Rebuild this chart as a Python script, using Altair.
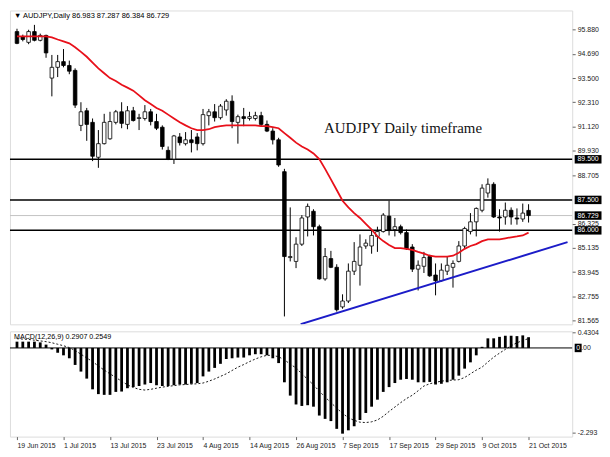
import altair as alt
import pandas as pd

# ---------------- data ----------------
date_labels = ["19 Jun 2015", "1 Jul 2015", "13 Jul 2015", "23 Jul 2015", "4 Aug 2015",
               "14 Aug 2015", "26 Aug 2015", "7 Sep 2015", "17 Sep 2015", "29 Sep 2015",
               "9 Oct 2015", "21 Oct 2015"]
date_ticks = [0, 8, 16, 24, 32, 40, 48, 56, 64, 72, 80, 88]

opens = [95.79, 95.55, 95.26, 95.79, 95.36, 95.60, 93.50, 94.03, 94.31, 94.12,
         93.88, 91.17, 91.89, 91.32, 89.60, 90.27, 90.51, 91.32, 91.84, 91.22,
         91.89, 91.51, 91.51, 91.84, 91.36, 91.08, 89.94, 89.51, 90.60, 90.27,
         90.46, 90.60, 90.27, 91.65, 91.84, 91.55, 91.93, 92.36, 91.32, 91.60,
         91.51, 91.51, 91.65, 91.22, 90.89, 90.46, 88.89, 84.66, 84.47, 85.32,
         86.66, 86.94, 86.18, 83.61, 84.61, 84.18, 82.23, 82.52, 83.99, 84.28,
         85.23, 85.23, 85.70, 85.94, 86.70, 86.04, 86.18, 85.89, 85.18, 84.09,
         84.23, 84.71, 83.80, 83.52, 83.99, 84.18, 84.47, 85.23, 85.94, 86.42,
         86.99, 87.84, 88.27, 86.66, 86.66, 86.99, 86.61, 86.56, 86.983]
highs = [95.93, 95.64, 95.88, 96.12, 95.69, 95.64, 94.64, 94.64, 94.93, 94.36,
         93.98, 92.31, 92.03, 91.51, 90.94, 91.74, 91.84, 91.93, 92.31, 92.12,
         92.08, 91.74, 92.17, 91.98, 91.74, 91.17, 90.13, 90.70, 90.79, 90.84,
         90.94, 90.79, 91.98, 91.98, 92.22, 92.22, 92.46, 92.65, 91.70, 92.03,
         91.84, 91.84, 91.84, 91.41, 91.03, 90.56, 89.03, 87.13, 85.66, 86.75,
         87.32, 87.04, 86.28, 85.13, 84.99, 84.33, 82.85, 84.37, 85.42, 85.80,
         85.56, 86.04, 86.18, 86.85, 87.46, 86.61, 86.28, 86.04, 85.32, 84.52,
         84.94, 84.80, 84.37, 84.37, 84.71, 84.52, 85.47, 86.18, 86.85, 87.13,
         88.27, 88.56, 88.37, 87.04, 87.37, 87.13, 87.08, 87.32, 87.287]
lows = [95.17, 95.31, 95.17, 95.31, 95.31, 94.50, 92.60, 93.55, 94.03, 93.69,
        92.03, 90.89, 90.41, 89.41, 89.08, 90.23, 90.46, 91.22, 91.03, 90.98,
        91.36, 90.94, 91.41, 91.17, 90.94, 89.98, 89.46, 89.27, 90.18, 90.18,
        89.84, 89.94, 90.18, 91.17, 91.36, 91.46, 91.65, 91.03, 90.27, 91.13,
        91.41, 91.41, 91.13, 90.84, 90.23, 89.13, 81.76, 84.47, 84.14, 85.23,
        85.70, 85.75, 83.57, 83.52, 84.14, 82.00, 82.14, 82.42, 83.80, 83.28,
        85.09, 84.85, 84.94, 85.89, 85.75, 85.70, 85.80, 85.04, 83.95, 83.04,
        83.90, 83.71, 82.80, 83.47, 83.80, 83.18, 84.42, 85.09, 85.80, 85.70,
        86.89, 87.61, 86.61, 85.94, 86.28, 86.28, 86.28, 86.42, 86.384]
closes = [95.21, 95.40, 95.79, 95.36, 95.60, 94.74, 94.03, 94.31, 94.12, 93.84,
          92.17, 91.84, 91.22, 89.65, 90.27, 91.32, 91.36, 91.84, 91.27, 91.89,
          91.41, 91.55, 91.84, 91.36, 91.03, 90.13, 89.51, 90.65, 90.32, 90.46,
          90.32, 90.27, 91.70, 91.84, 91.55, 92.12, 92.36, 91.36, 91.60, 91.51,
          91.60, 91.65, 91.22, 90.89, 90.46, 89.22, 84.71, 84.71, 85.32, 86.61,
          87.18, 86.18, 83.61, 84.71, 84.18, 82.09, 82.52, 83.99, 84.47, 85.18,
          85.37, 85.75, 85.94, 86.75, 85.99, 86.18, 85.89, 85.09, 84.09, 84.28,
          84.66, 83.76, 83.52, 84.04, 84.28, 84.37, 85.23, 86.09, 86.42, 87.08,
          88.08, 88.27, 86.66, 86.61, 86.99, 86.66, 86.56, 86.85, 86.729]
ma_values = [95.55, 95.55, 95.55, 95.55, 95.55, 95.55, 95.50, 95.40, 95.31, 95.21,
             95.02, 94.79, 94.55, 94.26, 93.98, 93.74, 93.50, 93.36, 93.17, 93.03,
             92.88, 92.65, 92.41, 92.22, 92.03, 91.89, 91.70, 91.51, 91.32, 91.17,
             91.03, 90.94, 90.94, 90.98, 91.08, 91.13, 91.17, 91.17, 91.17, 91.17,
             91.17, 91.17, 91.13, 91.13, 91.08, 91.03, 90.79, 90.56, 90.32, 90.13,
             89.98, 89.79, 89.51, 89.03, 88.51, 87.99, 87.46, 87.13, 86.85, 86.61,
             86.32, 86.04, 85.70, 85.47, 85.28, 85.13, 85.13, 85.09, 85.04, 84.94,
             84.85, 84.75, 84.71, 84.71, 84.71, 84.75, 84.90, 85.09, 85.23, 85.32,
             85.47, 85.56, 85.56, 85.56, 85.61, 85.66, 85.70, 85.75, 85.89]
macd_main = [0.17, 0.17, 0.17, 0.17, 0.15, 0.09, -0.04, -0.13, -0.20, -0.28,
             -0.46, -0.64, -0.83, -1.12, -1.25, -1.27, -1.27, -1.19, -1.18, -1.09,
             -1.06, -1.03, -0.99, -0.95, -1.01, -1.03, -1.03, -1.01, -0.99, -0.99,
             -0.97, -0.95, -0.77, -0.64, -0.54, -0.43, -0.30, -0.28, -0.26, -0.26,
             -0.20, -0.17, -0.17, -0.20, -0.28, -0.41, -0.93, -1.29, -1.53, -1.57,
             -1.55, -1.59, -1.83, -1.92, -1.98, -2.19, -2.32, -2.23, -2.12, -1.95,
             -1.76, -1.59, -1.40, -1.19, -1.06, -0.95, -0.86, -0.84, -0.86, -0.93,
             -0.93, -0.92, -0.99, -0.97, -0.93, -0.86, -0.75, -0.56, -0.39, -0.20,
             0.03, 0.26, 0.26, 0.30, 0.33, 0.33, 0.32, 0.34, 0.2907]
macd_signal = [0.25, 0.24, 0.23, 0.21, 0.19, 0.17, 0.14, 0.10, 0.06, 0.01,
               -0.07, -0.17, -0.27, -0.37, -0.49, -0.60, -0.70, -0.80, -0.90, -1.00,
               -1.07, -1.12, -1.14, -1.12, -1.09, -1.06, -1.04, -1.02, -1.00, -0.99,
               -0.98, -0.97, -0.95, -0.90, -0.84, -0.77, -0.70, -0.61, -0.52, -0.45,
               -0.37, -0.30, -0.24, -0.20, -0.20, -0.24, -0.32, -0.44, -0.54, -0.70,
               -0.85, -1.00, -1.17, -1.33, -1.48, -1.63, -1.77, -1.89, -1.96, -2.01,
               -2.02, -2.00, -1.95, -1.85, -1.72, -1.60, -1.48, -1.37, -1.28, -1.16,
               -1.03, -0.97, -0.93, -0.90, -0.88, -0.87, -0.86, -0.80, -0.70, -0.60,
               -0.52, -0.38, -0.25, -0.14, -0.04, 0.06, 0.14, 0.20, 0.2549]

level_values = [89.5, 87.5, 86.0]
box_values = [89.5, 87.5, 86.729, 86.0]
box_labels = ["89.500", "87.500", "86.729", "86.000"]
last_price = 86.729
trend_x = [48.8, 94.7]
trend_y = [81.38, 85.42]
price_ticks = [95.88, 94.69, 93.5, 92.31, 91.12, 89.93, 88.705, 86.325, 85.135,
               83.945, 82.755, 81.565]
macd_ticks = [0.4304, -2.293]
header_text = "\u25bc AUDJPY,Daily  86.983 87.287 86.384 86.729"
macd_text = "MACD(12,26,9) 0.2907 0.2549"
note_text = "AUDJPY Daily timeframe"
note_x, note_y = 52.8, 91.03

# ---------------- tables ----------------
n = len(opens)
df = pd.DataFrame({"i": list(range(n)), "open": opens, "high": highs, "low": lows,
                   "close": closes, "ma": ma_values, "macd": macd_main,
                   "signal": macd_signal})
levels_df = pd.DataFrame({"v": level_values})
last_df = pd.DataFrame({"v": [last_price]})
trend_df = pd.DataFrame({"i": trend_x, "p": trend_y})
box_df = pd.DataFrame({"v": box_values, "lbl": box_labels})
note_df = pd.DataFrame({"i": [note_x], "p": [note_y], "t": [note_text]})
head_df = pd.DataFrame({"t": [header_text]})
mhead_df = pd.DataFrame({"t": [macd_text]})
zero_df = pd.DataFrame({"z": [0.0], "a": ["0"], "b": [".00"]})

W, H1, H2 = 566, 316, 106
FONT = "Liberation Sans"
xs = alt.Scale(domain=[-0.35, 94.65], nice=False, zero=False)
ys = alt.Scale(domain=[81.37, 96.83], nice=False, zero=False)
ms = alt.Scale(domain=[-2.40, 0.45], nice=False, zero=False)

price_axis = alt.Axis(orient="right", values=price_ticks, format=".3f", labelFontSize=7,
                      labelFont=FONT, labelColor="#222222", tickSize=3, tickColor="#666666",
                      domain=False, grid=False, title=None, labelPadding=2,
                      labelOverlap=False, labelFlush=False)
macd_axis = alt.Axis(orient="right", values=macd_ticks,
                     labelExpr="datum.value > 0 ? '0.4304' : '-2.293'", labelFontSize=7,
                     labelFont=FONT, labelColor="#222222", tickSize=3, tickColor="#666666",
                     domain=False, grid=False, title=None, labelPadding=2,
                     labelOverlap=False, labelFlush=False)
js_labels = "[" + ",".join("'" + d + "'" for d in date_labels) + "]"
date_axis = alt.Axis(orient="bottom", values=date_ticks,
                     labelExpr=js_labels + "[round(datum.value / 8)]", labelAlign="left",
                     labelFontSize=7, labelFont=FONT, labelColor="#222222", tickSize=3,
                     tickColor="#666666", domain=False, grid=False, title=None,
                     labelPadding=2, labelOverlap=False, labelFlush=False)

X = alt.X("i:Q", scale=xs, axis=None)

def Y(field):
    return alt.Y(field, scale=ys, axis=price_axis)

levels = alt.Chart(levels_df).mark_rule(color="black", strokeWidth=1.5).encode(y=Y("v:Q"))
lastline = alt.Chart(last_df).mark_rule(color="#c4c4c4", strokeWidth=1).encode(y=Y("v:Q"))
wicks = alt.Chart(df).mark_rule(color="black", strokeWidth=1).encode(
    x=X, y=Y("low:Q"), y2="high:Q")
bodies = alt.Chart(df).mark_bar(size=3.6, stroke="black", strokeWidth=0.8,
                                orient="vertical").encode(
    x=X, y=Y("open:Q"), y2="close:Q",
    fill=alt.condition("datum.close >= datum.open", alt.value("white"), alt.value("black")))
ma_line = alt.Chart(df).mark_line(color="#e8101a", strokeWidth=1.8).encode(x=X, y=Y("ma:Q"))
trend = alt.Chart(trend_df).mark_line(color="#1c1cc8", strokeWidth=2, clip=True).encode(
    x=alt.X("i:Q", scale=xs, axis=None), y=Y("p:Q"))
note = alt.Chart(note_df).mark_text(align="left", baseline="middle", fontSize=15,
                                    font="Liberation Serif", color="#111111").encode(
    x=alt.X("i:Q", scale=xs, axis=None), y=Y("p:Q"), text="t:N")
header = alt.Chart(head_df).mark_text(align="left", baseline="middle", fontSize=7.5,
                                      font=FONT, color="black").encode(
    x=alt.value(4), y=alt.value(6), text="t:N")
boxes = alt.Chart(box_df).mark_tick(orient="horizontal", size=27, thickness=8.5,
                                    color="black", opacity=1, clip=False).encode(
    x=alt.value(W + 16), y=Y("v:Q"))
box_text = alt.Chart(box_df).mark_text(align="center", baseline="middle", fontSize=7,
                                       font=FONT, color="white").encode(
    x=alt.value(W + 16), y=Y("v:Q"), text="lbl:N")

main = alt.layer(levels, lastline, wicks, bodies, ma_line, trend, note, header,
                 boxes, box_text).properties(width=W, height=H1)

MX = alt.X("i:Q", scale=xs, axis=date_axis)

def MY(field):
    return alt.Y(field, scale=ms, axis=macd_axis)

zero_line = alt.Chart(zero_df).mark_rule(color="black", strokeWidth=1).encode(y=MY("z:Q"))
hist = alt.Chart(df).mark_bar(size=2.8, color="black", orient="vertical").encode(
    x=MX, y=MY("macd:Q"), y2=alt.datum(0))
sig = alt.Chart(df).mark_line(color="black", strokeWidth=0.9, strokeDash=[2, 2]).encode(
    x=MX, y=MY("signal:Q"))
mhead = alt.Chart(mhead_df).mark_text(align="left", baseline="middle", fontSize=7.2,
                                      font=FONT, color="black").encode(
    x=alt.value(4), y=alt.value(6), text="t:N")
zbox = alt.Chart(zero_df).mark_tick(orient="horizontal", size=7, thickness=8.5,
                                    color="black", opacity=1, clip=False).encode(
    x=alt.value(W + 6), y=MY("z:Q"))
ztext_a = alt.Chart(zero_df).mark_text(align="center", baseline="middle", fontSize=7,
                                       font=FONT, color="white").encode(
    x=alt.value(W + 6), y=MY("z:Q"), text="a:N")
ztext_b = alt.Chart(zero_df).mark_text(align="left", baseline="middle", fontSize=7,
                                       font=FONT, color="#222222").encode(
    x=alt.value(W + 9), y=MY("z:Q"), text="b:N")

macd = alt.layer(zero_line, hist, sig, mhead, zbox, ztext_a, ztext_b).properties(
    width=W, height=H2)

chart = alt.vconcat(main, macd, spacing=2).properties(
    padding={"left": 0, "top": 0, "right": 0, "bottom": 0}
).configure_view(stroke="#8c8c8c", strokeWidth=1.5).configure(background="white")

chart.save("out.html", embed_options={"renderer": "svg", "actions": False})
